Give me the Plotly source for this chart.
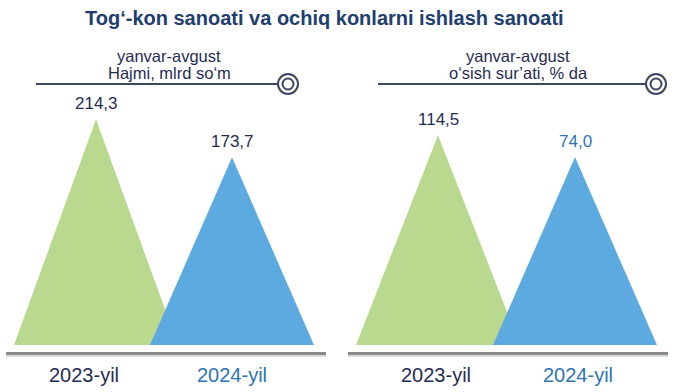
import plotly.graph_objects as go

# ---- data ----
TITLE = "Tog‘-kon sanoati va ochiq konlarni ishlash sanoati"
YEARS = ["2023-yil", "2024-yil"]
VOLUME = [214.3, 173.7]          # Hajmi, mlrd so'm
GROWTH = [114.5, 74.0]           # o'sish sur'ati, % da
VOLUME_LABELS = ["214,3", "173,7"]
GROWTH_LABELS = ["114,5", "74,0"]
HEADERS = [["yanvar-avgust", "Hajmi, mlrd so‘m"],
           ["yanvar-avgust", "o‘sish sur’ati, % da"]]

# ---- style ----
W, H = 675, 392
FONT = "Liberation Sans, Arial, sans-serif"
NAVY = "#1F2D55"
BLUE_TXT = "#2E75B6"
TITLE_C = "#203E6E"
GREEN = "#B9D98F"
BLUE = "#5DAAE0"
FILLS = [GREEN, BLUE]
YEAR_COLORS = [NAVY, BLUE_TXT]
LINE_C = "#3A4862"

BASE_PX = 345  # pixel row of triangle bases

panels = [
    dict(vals=VOLUME, labels=VOLUME_LABELS, floor=-27.0, scale=0.936,
         dom=(0.0, 0.5), c0=96, gap=136, half=82, year_dx=[-12, 0],
         lbl_colors=[NAVY, NAVY], hdr_x=169, line=(36, 288), base=(6, 326)),
    dict(vals=GROWTH, labels=GROWTH_LABELS, floor=-272.0, scale=0.543,
         dom=(0.5, 1.0), c0=438, gap=137, half=82, year_dx=[-2, 3],
         lbl_colors=[NAVY, BLUE_TXT], hdr_x=518, line=(378, 656), base=(348, 668)),
]

fig = go.Figure()
layout = dict(width=W, height=H, margin=dict(l=0, r=0, t=0, b=0),
              paper_bgcolor="white", plot_bgcolor="rgba(0,0,0,0)",
              showlegend=False, font=dict(family=FONT))
annotations = []
shapes = []


def py(px):
    """pixel row (from top) -> paper fraction"""
    return 1 - px / H


for i, p in enumerate(panels):
    ax = "" if i == 0 else str(i + 1)
    xname, yname = "x" + ax, "y" + ax
    d0, d1 = p["dom"][0] * W, p["dom"][1] * W
    xmin = -(p["c0"] - d0) / p["gap"]
    xmax = (d1 - p["c0"]) / p["gap"]
    hw = p["half"] / p["gap"]
    ymin = p["floor"] - (H - BASE_PX) / p["scale"]
    ymax = p["floor"] + BASE_PX / p["scale"]
    layout["xaxis" + ax] = dict(domain=list(p["dom"]), range=[xmin, xmax], visible=False,
                                fixedrange=True, anchor=yname)
    layout["yaxis" + ax] = dict(domain=[0, 1], range=[ymin, ymax], visible=False,
                                fixedrange=True, anchor=xname)
    for k, v in enumerate(p["vals"]):
        fig.add_trace(go.Scatter(
            x=[k - hw, k, k + hw, k - hw],
            y=[p["floor"], v, p["floor"], p["floor"]],
            mode="lines", fill="toself", fillcolor=FILLS[k],
            line=dict(width=0, color=FILLS[k]), hoverinfo="skip",
            xaxis=xname, yaxis=yname))
        annotations.append(dict(x=k, y=v, xref=xname, yref=yname, text=p["labels"][k],
                                showarrow=False, xanchor="center", yanchor="bottom", yshift=4,
                                font=dict(size=17, color=p["lbl_colors"][k], family=FONT)))
        annotations.append(dict(x=k, y=py(375), xref=xname, yref="paper", text=YEARS[k],
                                showarrow=False, xanchor="center", yanchor="middle",
                                xshift=p["year_dx"][k],
                                font=dict(size=20, color=YEAR_COLORS[k], family=FONT)))
    # headers
    for j, t in enumerate(HEADERS[i]):
        annotations.append(dict(x=p["hdr_x"] / W, y=py([56, 73][j]), xref="paper",
                                yref="paper", text=t, showarrow=False,
                                xanchor="center", yanchor="middle",
                                font=dict(size=16.5, color=NAVY, family=FONT)))
    # header line + double circle
    lx0, cx = p["line"]
    shapes.append(dict(type="line", xref="paper", yref="paper",
                       x0=lx0 / W, x1=(cx - 10) / W, y0=py(84), y1=py(84),
                       line=dict(color=LINE_C, width=2)))
    shapes.append(dict(type="circle", xref="paper", yref="paper",
                       x0=(cx - 10) / W, x1=(cx + 10) / W, y0=py(94), y1=py(74),
                       line=dict(color=LINE_C, width=2), fillcolor="white"))
    shapes.append(dict(type="circle", xref="paper", yref="paper",
                       x0=(cx - 5.5) / W, x1=(cx + 5.5) / W, y0=py(89.5), y1=py(78.5),
                       line=dict(color=LINE_C, width=2), fillcolor="white"))
    # base line with shadow
    bx0, bx1 = p["base"]
    shapes.append(dict(type="line", xref="paper", yref="paper",
                       x0=bx0 / W, x1=bx1 / W, y0=py(356), y1=py(356),
                       line=dict(color="#DADADA", width=2)))
    shapes.append(dict(type="line", xref="paper", yref="paper",
                       x0=bx0 / W, x1=bx1 / W, y0=py(353.5), y1=py(353.5),
                       line=dict(color="#8A8A8A", width=3)))

annotations.append(dict(x=324 / W, y=py(18), xref="paper", yref="paper",
                        text="<b>" + TITLE + "</b>", showarrow=False,
                        xanchor="center", yanchor="middle",
                        font=dict(size=20, color=TITLE_C, family=FONT)))

layout["annotations"] = annotations
layout["shapes"] = shapes
fig.update_layout(**layout)
fig.write_html("out.html", config={"displayModeBar": False},
               post_script="document.body.style.margin='0';document.body.style.overflow='hidden';")
